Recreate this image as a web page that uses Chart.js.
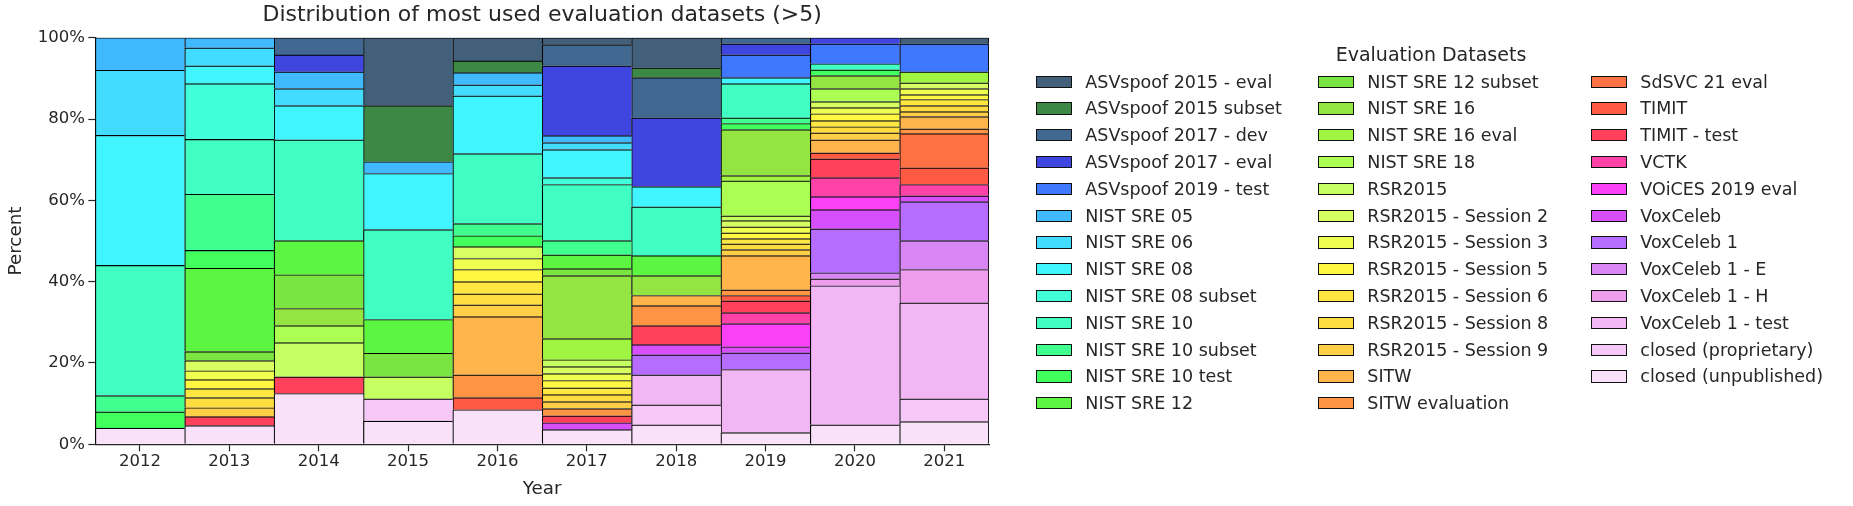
<!DOCTYPE html>
<html>
<head>
<meta charset="utf-8">
<title>Evaluation datasets</title>
<script src="https://cdn.jsdelivr.net/npm/chart.js@4.4.1/dist/chart.umd.min.js"></script>
<style>
    html, body { margin: 0; padding: 0; background: #fff; }
    #wrap { position: relative; width: 1853px; height: 506px; overflow: hidden; }
    #dataset-chart { position: absolute; left: 0; top: 0; }
    #legend { position: absolute; left: 0; top: 0; width: 1853px; height: 506px;
              font-family: "DejaVu Sans", sans-serif; color: #262626; }
    .legend-title { position: absolute; font-size: 19px; white-space: nowrap;
                    transform: translate(-50%, -50%); }
    .legend-item { position: absolute; height: 26.8px; display: flex; align-items: center;
                   font-size: 17.5px; white-space: nowrap; }
    .legend-box { width: 36px; height: 12.4px; box-sizing: border-box;
                  border: 1px solid #111; margin-right: 13.3px; }
</style>
</head>
<body>
<div id="wrap">
    <canvas id="dataset-chart" width="1853" height="506"></canvas>
    <div id="legend"></div>
</div>
<script>
// Năm (trục X)
const years = ["2012", "2013", "2014", "2015", "2016", "2017", "2018", "2019", "2020", "2021"];

// Tỷ lệ (%) của từng bộ dữ liệu theo năm
const asvspoof2015Eval   = [0, 0, 0, 16.7, 5.7, 1.7, 7.4, 0, 0, 1.5];
const asvspoof2015Subset = [0, 0, 0, 13.8, 2.9, 0, 2.4, 0, 0, 0];
const asvspoof2017Dev    = [0, 0, 4.2, 0, 0, 5.2, 9.9, 1.5, 0, 0];
const asvspoof2017Eval   = [0, 0, 4.2, 0, 0, 17.2, 16.9, 2.7, 1.5, 0];
const asvspoof2019Test   = [0, 0, 0, 0, 0, 0, 0, 5.6, 4.9, 6.9];
const sre05       = [8, 2.5, 4.1, 2.9, 3.0, 1.7, 0, 0, 0, 0];
const sre06       = [16, 4.4, 4.2, 0, 2.7, 1.7, 0, 0, 0, 0];
const sre08       = [32, 4.4, 8.4, 13.8, 14.2, 6.9, 5.0, 1.5, 0, 0];
const sre08Subset = [0, 13.7, 0, 0, 0, 1.7, 0, 0, 0, 0];
const sre10       = [32, 13.5, 24.8, 22.1, 17.2, 13.8, 12.0, 8.4, 1.5, 0];
const sre10Subset = [4, 13.8, 0, 0, 3.0, 3.5, 0, 1.4, 0, 0];
const sre10Test   = [4, 4.4, 0, 0, 2.7, 0, 0, 1.5, 1.4, 0];
const sre12       = [0, 20.5, 8.4, 8.3, 0, 3.4, 4.9, 0, 0, 0];
const sre12Subset = [0, 2.2, 8.3, 5.8, 0, 1.7, 0, 0, 0, 0];
const sre16       = [0, 0, 4.2, 0, 0, 15.5, 4.9, 11.3, 3.2, 0];
const sre16Eval   = [0, 0, 0, 0, 0, 5.2, 0, 1.3, 0, 2.7];
const sre18       = [0, 0, 4.2, 0, 0, 0, 0, 8.6, 3.2, 0];
const rsr2015     = [0, 0, 8.4, 5.4, 0, 1.7, 0, 1.2, 0, 0];
const rsrSession2 = [0, 2.5, 0, 0, 2.9, 1.7, 0, 1.5, 1.5, 1.4];
const rsrSession3 = [0, 2.2, 0, 0, 2.7, 1.7, 0, 1.5, 1.5, 1.5];
const rsrSession5 = [0, 2.2, 0, 0, 3.0, 1.8, 0, 1.4, 1.7, 1.2];
const rsrSession6 = [0, 2.2, 0, 0, 3.0, 1.7, 0, 1.3, 1.5, 1.5];
const rsrSession8 = [0, 2.5, 0, 0, 2.7, 1.7, 0, 1.4, 1.5, 1.5];
const rsrSession9 = [0, 2.2, 0, 0, 2.9, 1.7, 0, 1.5, 1.7, 1.2];
const sitw        = [0, 0, 0, 0, 14.3, 0, 2.5, 8.4, 3.2, 3.0];
const sitwEval    = [0, 0, 0, 0, 5.6, 1.8, 4.9, 1.4, 0, 1.2];
const sdsvc21Eval = [0, 0, 0, 0, 0, 0, 0, 0, 0, 8.4];
const timit       = [0, 0, 0, 0, 3.0, 0, 0, 1.3, 1.5, 4.1];
const timitTest   = [0, 2.2, 4.1, 0, 0, 1.7, 4.7, 2.9, 4.6, 0];
const vctk        = [0, 0, 0, 0, 0, 0, 0, 2.7, 4.7, 2.8];
const voices2019Eval = [0, 0, 0, 0, 0, 0, 0, 5.7, 3.2, 0];
const voxceleb       = [0, 0, 0, 0, 0, 1.7, 2.5, 1.5, 4.7, 1.4];
const voxceleb1      = [0, 0, 0, 0, 0, 0, 4.9, 4.1, 10.8, 9.6];
const voxceleb1E     = [0, 0, 0, 0, 0, 0, 0, 0, 1.5, 7.1];
const voxceleb1H     = [0, 0, 0, 0, 0, 0, 0, 0, 1.7, 8.2];
const voxceleb1Test  = [0, 0, 0, 0, 0, 0, 7.4, 15.5, 34.2, 23.6];
const closedProprietary = [0, 0, 0, 5.5, 0, 0, 4.9, 0, 0, 5.6];
const closedUnpublished = [4, 4.6, 12.5, 5.7, 8.5, 3.6, 4.8, 2.9, 4.8, 5.6];

// Tên các bộ dữ liệu (theo thứ tự chú thích, từ trên xuống)
const datasetNames = [
    "ASVspoof 2015 - eval", "ASVspoof 2015 subset", "ASVspoof 2017 - dev", "ASVspoof 2017 - eval",
    "ASVspoof 2019 - test", "NIST SRE 05", "NIST SRE 06", "NIST SRE 08", "NIST SRE 08 subset",
    "NIST SRE 10", "NIST SRE 10 subset", "NIST SRE 10 test", "NIST SRE 12",
    "NIST SRE 12 subset", "NIST SRE 16", "NIST SRE 16 eval", "NIST SRE 18", "RSR2015",
    "RSR2015 - Session 2", "RSR2015 - Session 3", "RSR2015 - Session 5", "RSR2015 - Session 6",
    "RSR2015 - Session 8", "RSR2015 - Session 9", "SITW", "SITW evaluation",
    "SdSVC 21 eval", "TIMIT", "TIMIT - test", "VCTK", "VOiCES 2019 eval", "VoxCeleb",
    "VoxCeleb 1", "VoxCeleb 1 - E", "VoxCeleb 1 - H", "VoxCeleb 1 - test",
    "closed (proprietary)", "closed (unpublished)"
];

const datasetValues = [
    asvspoof2015Eval, asvspoof2015Subset, asvspoof2017Dev, asvspoof2017Eval,
    asvspoof2019Test, sre05, sre06, sre08, sre08Subset,
    sre10, sre10Subset, sre10Test, sre12,
    sre12Subset, sre16, sre16Eval, sre18, rsr2015,
    rsrSession2, rsrSession3, rsrSession5, rsrSession6,
    rsrSession8, rsrSession9, sitw, sitwEval,
    sdsvc21Eval, timit, timitTest, vctk, voices2019Eval, voxceleb,
    voxceleb1, voxceleb1E, voxceleb1H, voxceleb1Test,
    closedProprietary, closedUnpublished
];

// Bảng màu (cùng thứ tự)
const palette = [
    "#42607a", "#3e8845", "#416890", "#3f46e0", "#3f78ff", "#41b9ff", "#41dcff", "#41f5ff",
    "#41ffd9", "#41ffc2", "#41ff8f", "#41ff5c", "#5cf541",
    "#7ae541", "#94e541", "#a0f542", "#acff52", "#c6ff61", "#d8ff61", "#eeff4f", "#fff741",
    "#ffe741", "#ffdd41", "#ffcf47", "#ffb54b", "#ff9445",
    "#ff7043", "#ff5a43", "#ff415b", "#ff42a8", "#fb41f6", "#d74ffb", "#b66cff", "#d886f4",
    "#ef9eee", "#f2b6f5", "#f6c8f7", "#f9e2f9"
];

const TEXT_COLOR = "#262626";
const FONT = "DejaVu Sans";

// Tạo các dataset: chồng từ dưới lên nên đảo ngược thứ tự chú thích
function buildDatasets() {
    const lastIndex = years.length - 1;
    const list = datasetNames.map((name, i) => ({
        label: name,
        data: datasetValues[i].map(v => (v > 0 ? v : null)),
        backgroundColor: palette[i],
        borderColor: "#000",
        borderWidth: ctx => ({
            top: 1.2,
            left: 1.2,
            right: ctx.dataIndex === lastIndex ? 1.2 : 0,
            bottom: 0
        }),
        borderSkipped: false,
        barPercentage: 1,
        categoryPercentage: 1
    }));
    return list.reverse();
}

// Chú thích dạng HTML, 3 cột như hình gốc
function buildLegend() {
    const legend = document.getElementById("legend");
    const colX = [1036, 1318, 1591];
    const firstRow = 81.7;
    const rowStep = 26.8;

    const title = document.createElement("div");
    title.className = "legend-title";
    title.textContent = "Evaluation Datasets";
    title.style.left = "1431px";
    title.style.top = "54.3px";
    legend.appendChild(title);

    datasetNames.forEach((name, i) => {
        const col = Math.floor(i / 13);
        const row = i % 13;
        const item = document.createElement("div");
        item.className = "legend-item";
        item.style.left = colX[col] + "px";
        item.style.top = (firstRow + row * rowStep - rowStep / 2) + "px";

        const box = document.createElement("span");
        box.className = "legend-box";
        box.style.background = palette[i];

        const text = document.createElement("span");
        text.textContent = name;

        item.appendChild(box);
        item.appendChild(text);
        legend.appendChild(item);
    });
}

const ctx = document.getElementById("dataset-chart").getContext("2d");

const chart = new Chart(ctx, {
    type: "bar",
    data: {
        labels: years,
        datasets: buildDatasets()
    },
    options: {
        responsive: false,
        animation: false,
        devicePixelRatio: 1,
        layout: { padding: { left: 0, right: 864, top: 0, bottom: 0 } },
        plugins: {
            legend: { display: false },
            tooltip: { enabled: false },
            title: {
                display: true,
                text: "Distribution of most used evaluation datasets (>5)",
                fullSize: false,
                color: TEXT_COLOR,
                font: { family: FONT, size: 22, weight: "normal", lineHeight: 1.2 },
                padding: { top: 2.5, bottom: 8.8 }
            }
        },
        scales: {
            x: {
                stacked: true,
                offset: true,
                grid: {
                    display: true,
                    drawOnChartArea: false,
                    drawTicks: true,
                    tickLength: 7,
                    tickWidth: 1.2,
                    tickColor: TEXT_COLOR,
                    offset: false
                },
                border: { display: true, color: TEXT_COLOR, width: 1.3 },
                ticks: { color: TEXT_COLOR, font: { family: FONT, size: 16.5 }, padding: 1, maxRotation: 0 },
                title: {
                    display: true,
                    text: "Year",
                    color: TEXT_COLOR,
                    font: { family: FONT, size: 18.3 },
                    padding: { top: 6, bottom: 6 }
                },
                afterFit(scale) { scale.height = 61.7; }
            },
            y: {
                stacked: true,
                min: 0,
                max: 100,
                grid: {
                    display: true,
                    drawOnChartArea: false,
                    drawTicks: true,
                    tickLength: 7,
                    tickWidth: 1.2,
                    tickColor: TEXT_COLOR
                },
                border: { display: true, color: TEXT_COLOR, width: 1.3 },
                ticks: {
                    stepSize: 20,
                    color: TEXT_COLOR,
                    font: { family: FONT, size: 16.5 },
                    padding: 3.3,
                    callback: value => value + "%"
                },
                title: {
                    display: true,
                    text: "Percent",
                    color: TEXT_COLOR,
                    font: { family: FONT, size: 18.3 },
                    padding: { top: 5, bottom: 5 }
                },
                afterFit(scale) { scale.width = 95.3; }
            }
        }
    }
});

buildLegend();
</script>
</body>
</html>
